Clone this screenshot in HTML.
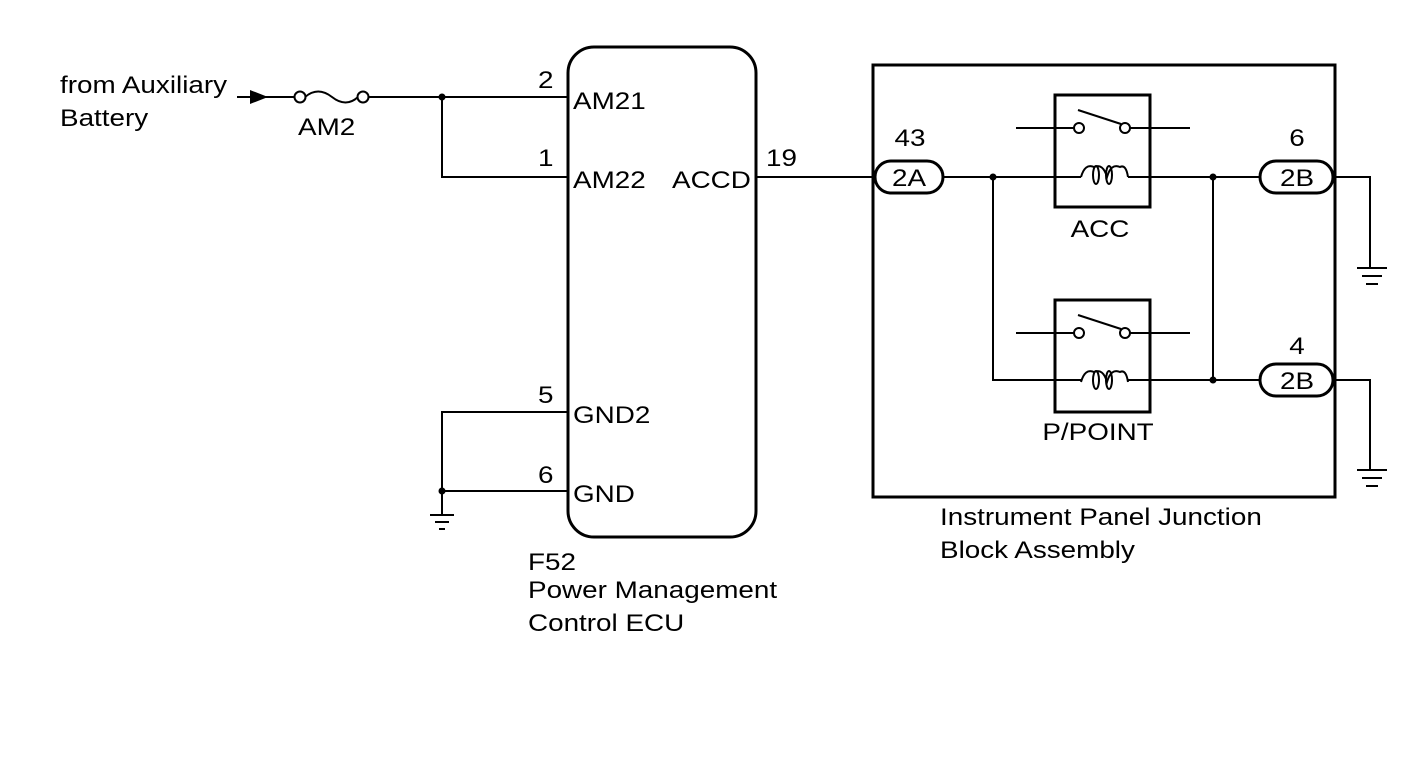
<!DOCTYPE html>
<html><head><style>body{margin:0;background:#fff}svg{display:block}text{font-family:"Liberation Sans",sans-serif;font-size:24px;fill:#000}</style></head>
<body>
<svg width="1424" height="759" viewBox="0 0 1424 759" xmlns="http://www.w3.org/2000/svg">
<g stroke="#000" stroke-width="2" fill="none">
<line x1="237" y1="97" x2="295" y2="97"/>
<circle cx="300" cy="97" r="5.5"/>
<path d="M305 97 Q318 86 332 97 Q346 108 358 97"/>
<circle cx="363" cy="97" r="5.5"/>
<line x1="369" y1="97" x2="568" y2="97"/>
<polyline points="442,97 442,177 568,177"/>
<line x1="756" y1="177" x2="875" y2="177"/>
<polyline points="568,412 442,412 442,515"/>
<line x1="442" y1="491" x2="568" y2="491"/>
<line x1="430" y1="515" x2="454" y2="515"/><line x1="435" y1="522" x2="449" y2="522"/><line x1="439" y1="529" x2="445" y2="529"/>
<line x1="943" y1="177" x2="1081" y2="177"/><line x1="1128" y1="177" x2="1260" y2="177"/>
<polyline points="993,177 993,380 1081,380"/><line x1="1128" y1="380" x2="1260" y2="380"/>
<line x1="1213" y1="177" x2="1213" y2="380"/>
<polyline points="1335,177 1370,177 1370,268"/>
<polyline points="1335,380 1370,380 1370,470"/>
<line x1="1357" y1="268" x2="1387" y2="268"/><line x1="1362" y1="276" x2="1382" y2="276"/><line x1="1366" y1="284" x2="1378" y2="284"/>
<line x1="1357" y1="470" x2="1387" y2="470"/><line x1="1362" y1="478" x2="1382" y2="478"/><line x1="1366" y1="486" x2="1378" y2="486"/>
<g id="r1">
<line x1="1016" y1="128" x2="1074" y2="128"/><circle cx="1079" cy="128" r="5"/>
<line x1="1078" y1="110" x2="1121" y2="124"/>
<circle cx="1125" cy="128" r="5"/><line x1="1130" y1="128" x2="1190" y2="128"/>
<path d="M1081 177 Q1085 163 1094 167 Q1103 163 1107 177 Q1111 163 1120 167 Q1126 164 1128 177"/>
<ellipse cx="1096" cy="175" rx="3" ry="9"/><ellipse cx="1109" cy="175" rx="3" ry="9"/>
</g>
<use href="#r1" transform="translate(0,205)"/>
</g>
<g fill="#fff" stroke="#000" stroke-width="3">
<rect x="568" y="47" width="188" height="490" rx="26"/>
<rect x="873" y="65" width="462" height="432" fill="none"/>
<rect x="1055" y="95" width="95" height="112" fill="none"/>
<rect x="1055" y="300" width="95" height="112" fill="none"/>
<rect x="875" y="161" width="68" height="32" rx="16"/>
<rect x="1260" y="161" width="73" height="32" rx="16"/>
<rect x="1260" y="364" width="73" height="32" rx="16"/>
</g>
<g fill="#000">
<polygon points="250,90 268,97 250,104"/>
<circle cx="442" cy="97" r="3.5"/><circle cx="442" cy="491" r="3.5"/>
<circle cx="993" cy="177" r="3.5"/><circle cx="1213" cy="177" r="3.5"/><circle cx="1213" cy="380" r="3.5"/>
</g>
<text transform="translate(60,93) scale(1.16 1)">from Auxiliary</text><text transform="translate(60,126) scale(1.16 1)">Battery</text>
<text transform="translate(298,135) scale(1.16 1)">AM2</text>
<text transform="translate(538,88) scale(1.16 1)">2</text><text transform="translate(573,109) scale(1.16 1)">AM21</text>
<text transform="translate(538,166) scale(1.16 1)">1</text><text transform="translate(573,188) scale(1.16 1)">AM22</text>
<text transform="translate(672,188) scale(1.16 1)">ACCD</text><text transform="translate(766,166) scale(1.16 1)">19</text>
<text transform="translate(538,403) scale(1.16 1)">5</text><text transform="translate(573,423) scale(1.16 1)">GND2</text>
<text transform="translate(538,483) scale(1.16 1)">6</text><text transform="translate(573,502) scale(1.16 1)">GND</text>
<text transform="translate(528,570) scale(1.16 1)">F52</text><text transform="translate(528,598) scale(1.16 1)">Power Management</text><text transform="translate(528,631) scale(1.16 1)">Control ECU</text>
<text text-anchor="middle" transform="translate(909,186) scale(1.16 1)">2A</text><text text-anchor="middle" transform="translate(910,146) scale(1.16 1)">43</text>
<text text-anchor="middle" transform="translate(1297,186) scale(1.16 1)">2B</text><text text-anchor="middle" transform="translate(1297,146) scale(1.16 1)">6</text>
<text text-anchor="middle" transform="translate(1297,389) scale(1.16 1)">2B</text><text text-anchor="middle" transform="translate(1297,354) scale(1.16 1)">4</text>
<text text-anchor="middle" transform="translate(1100,237) scale(1.16 1)">ACC</text><text text-anchor="middle" transform="translate(1098,440) scale(1.16 1)">P/POINT</text>
<text transform="translate(940,525) scale(1.16 1)">Instrument Panel Junction</text><text transform="translate(940,558) scale(1.16 1)">Block Assembly</text>
</svg>
</body></html>
